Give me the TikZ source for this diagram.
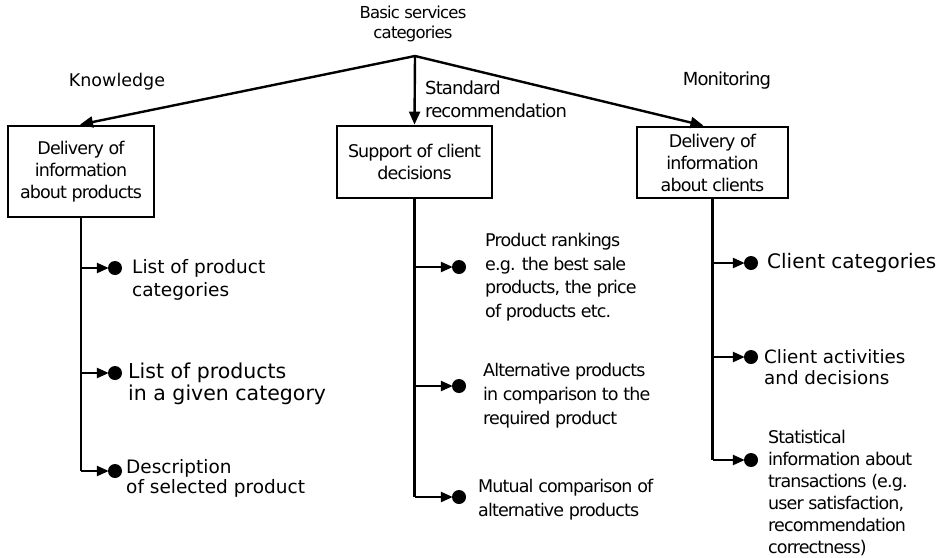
\documentclass[tikz,border=0pt]{standalone}
\usepackage{fontspec}
\setmainfont{DejaVu Sans}
\newfontfamily\tightfont[LetterSpace=-5]{DejaVu Sans}
\usetikzlibrary{arrows.meta}
\tikzset{
  box/.style={draw, line width=2.8pt, align=center, inner sep=2pt, font=\tightfont\fontsize{17.5}{22}\selectfont},
  lbl/.style={align=left, inner sep=0pt},
  bigarr/.style={line width=2.4pt, -{Triangle[length=13pt,width=11pt]}},
  brarr/.style={line width=2.4pt, -{Triangle[length=12pt,width=10pt]}, shorten >=-1pt},
  vline/.style={line width=2.4pt},
  dot/.style={circle, fill=black, minimum size=14pt, inner sep=0pt},
  item/.style={anchor=west, align=left, inner sep=0pt},
}
\begin{document}
\begin{tikzpicture}[x=1pt,y=-1pt]
\useasboundingbox[fill=white] (0,0) rectangle (941,557);

% title
\node[lbl, align=center, font=\tightfont\fontsize{16.5}{20}\selectfont] (title) at (413,24) {Basic services\\categories};
\coordinate (top) at (415,56);

% category boxes
\node[box, minimum width=146pt, minimum height=91pt] (b1) at (81,171.5) {Delivery of\\information\\about products};
\node[box, minimum width=155pt, minimum height=72pt] (b2) at (414.5,162) {Support of client\\decisions};
\node[box, minimum width=151pt, minimum height=71pt] (b3) at (712.5,162.5) {Delivery of\\information\\about clients};

% top arrows
\draw[bigarr] (top) -- ([xshift=-1pt]b1.north);
\draw[bigarr] (top) -- (b2.north);
\draw[bigarr] (top) -- ([xshift=-9pt]b3.north);

% arrow labels
\node[lbl, font=\fontsize{17.5}{20}\selectfont] (knowledge) at (117,82) {Knowledge};
\node[lbl, anchor=west, font=\tightfont\fontsize{18}{23}\selectfont] (standard) at (425,99.5) {Standard\\recommendation};
\node[lbl, font=\tightfont\fontsize{18}{20}\selectfont] (monitoring) at (727,81) {Monitoring};

% left column
\node[dot] (d11) at (115,268) {};
\node[dot] (d12) at (115,373) {};
\node[dot] (d13) at (115,471) {};
\draw[vline] (b1.south) -- (b1.south |- d13);
\draw[brarr] (b1.south |- d11) -- (d11.west);
\draw[brarr] (b1.south |- d12) -- (d12.west);
\draw[brarr] (b1.south |- d13) -- (d13.west);
\node[item, font=\fontsize{18.5}{23}\selectfont] (t11) at (132,279.5) {List of product\\categories};
\node[item, font=\fontsize{20.5}{22}\selectfont] (t12) at (128,384) {List of products\\in a given category};
\node[item, font=\fontsize{18.5}{20}\selectfont] (t13) at (126,478) {Description\\of selected product};

% middle column
\node[dot] (d21) at (459,267) {};
\node[dot] (d22) at (459,386) {};
\node[dot] (d23) at (459,497) {};
\draw[vline] (b2.south) -- (b2.south |- d23);
\draw[brarr] (b2.south |- d21) -- (d21.west);
\draw[brarr] (b2.south |- d22) -- (d22.west);
\draw[brarr] (b2.south |- d23) -- (d23.west);
\node[item, font=\tightfont\fontsize{17.5}{23.5}\selectfont] (t21) at (485,277) {Product rankings\\e.g. the best sale\\products, the price\\of products etc.};
\node[item, font=\tightfont\fontsize{17.5}{24}\selectfont] (t22) at (483,396) {Alternative products\\in comparison to the\\required product};
\node[item, font=\tightfont\fontsize{17.5}{24}\selectfont] (t23) at (478,500) {Mutual comparison of\\alternative products};

% right column
\node[dot] (d31) at (751,263) {};
\node[dot] (d32) at (751,357) {};
\node[dot] (d33) at (751,460) {};
\draw[vline] (b3.south) -- (b3.south |- d33);
\draw[brarr] (b3.south |- d31) -- (d31.west);
\draw[brarr] (b3.south |- d32) -- (d32.west);
\draw[brarr] (b3.south |- d33) -- (d33.west);
\node[item, font=\fontsize{20}{22}\selectfont] (t31) at (767,263) {Client categories};
\node[item, font=\fontsize{18.3}{21}\selectfont] (t32) at (764,367) {Client activities\\and decisions};
\node[item, font=\tightfont\fontsize{17.5}{22}\selectfont] (t33) at (768,493) {Statistical\\information about\\transactions (e.g.\\user satisfaction,\\recommendation\\correctness)};
\end{tikzpicture}
\end{document}
